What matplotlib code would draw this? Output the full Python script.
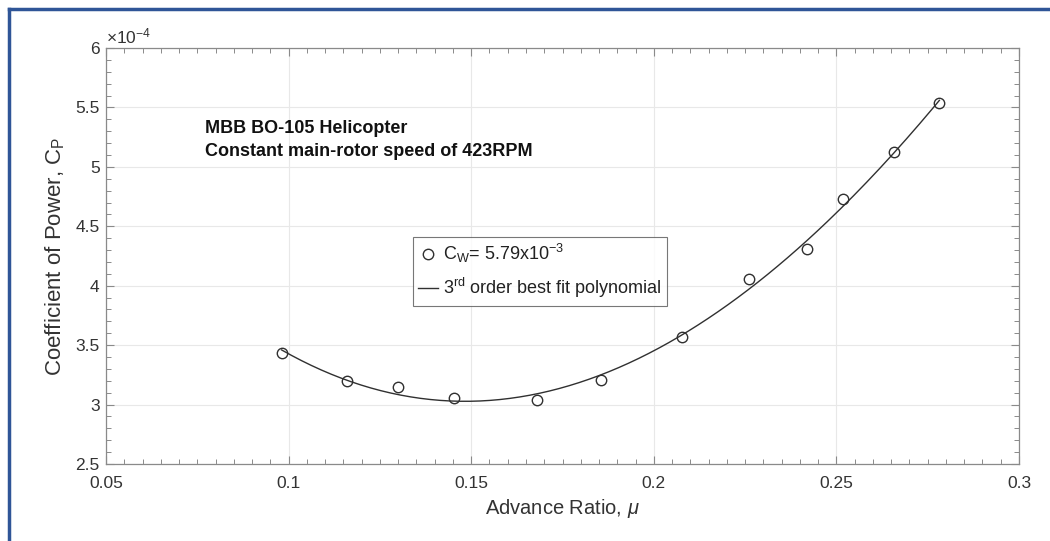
import matplotlib
matplotlib.use("Agg")
import matplotlib.pyplot as plt
import numpy as np
from matplotlib.lines import Line2D
from matplotlib.ticker import MultipleLocator, FuncFormatter

plt.rcParams["font.family"] = ["Liberation Sans", "DejaVu Sans"]
plt.rcParams["mathtext.fontset"] = "custom"
plt.rcParams["mathtext.rm"] = "Liberation Sans"
plt.rcParams["mathtext.it"] = "Liberation Sans:italic"

# advance ratio and measured power coefficient (C_W = 5.79e-3)
mu = [0.0981, 0.1160, 0.1300, 0.1453, 0.1681, 0.1855, 0.2078,
      0.2262, 0.2419, 0.2519, 0.2659, 0.2782]
cp = [3.436e-4, 3.196e-4, 3.148e-4, 3.055e-4, 3.041e-4, 3.207e-4, 3.571e-4,
      4.054e-4, 4.309e-4, 4.732e-4, 5.125e-4, 5.537e-4]

# 3rd order best fit polynomial
coef = np.polyfit(mu, cp, 3)
mu_fit = np.linspace(min(mu), max(mu), 200)
cp_fit = np.polyval(coef, mu_fit)

fig = plt.figure(figsize=(10.5, 5.41), dpi=100)
ax = fig.add_axes([106 / 1050, 1 - 464 / 541, (1019 - 106) / 1050, (464 - 48) / 541])

ax.plot(mu, cp, "o", mfc="none", mec="#303030", ms=7.5, mew=1.0,
        label=r"C$_\mathregular{W}$= 5.79x10$^\mathregular{-3}$")
ax.plot(mu_fit, cp_fit, "-", color="#303030", lw=1.0,
        label=r"3$^\mathregular{rd}$ order best fit polynomial")

ax.set_xlim(0.05, 0.3)
ax.set_ylim(2.5e-4, 6e-4)
ax.xaxis.set_major_locator(MultipleLocator(0.05))
ax.xaxis.set_minor_locator(MultipleLocator(0.005))
ax.yaxis.set_major_locator(MultipleLocator(0.5e-4))
ax.yaxis.set_minor_locator(MultipleLocator(0.1e-4))
ax.xaxis.set_major_formatter(FuncFormatter(lambda v, _: f"{v:g}"))
ax.yaxis.set_major_formatter(FuncFormatter(lambda v, _: f"{v * 1e4:g}"))

ax.grid(True, which="major", color="#e8e8e8", lw=0.8)
ax.set_axisbelow(True)
for s in ax.spines.values():
    s.set_color("#8a8a8a")
    s.set_linewidth(0.9)
ax.tick_params(which="both", direction="in", top=True, right=True,
               colors="#8a8a8a", labelcolor="#333333", labelsize=12.5)
ax.tick_params(which="major", length=6, width=0.8)
ax.tick_params(which="minor", length=3.5, width=0.7)
ax.tick_params(axis="x", which="major", pad=9)
ax.tick_params(axis="y", which="major", pad=4.5)

ax.set_xlabel(r"Advance Ratio, $\mathit{\mu}$", fontsize=14.5, color="#333333", labelpad=4)
ax.set_ylabel(r"Coefficient of Power, C$_\mathregular{P}$", fontsize=16,
              color="#333333", labelpad=6)

ax.text(0.0, 1.004, r"$\times$10$^\mathregular{-4}$", transform=ax.transAxes,
        fontsize=12.5, color="#333333", ha="left", va="bottom")

ax.text(0.0771, 5.226e-4, "MBB BO-105 Helicopter\nConstant main-rotor speed of 423RPM",
        fontsize=13, fontweight="bold", color="#111111", ha="left", va="center",
        linespacing=1.45)

leg = ax.legend(loc="upper left", bbox_to_anchor=(0.134, 4.41e-4),
                bbox_transform=ax.transData, fontsize=13, frameon=True,
                fancybox=False, edgecolor="#555555", handlelength=1.1,
                handletextpad=0.25, borderpad=0.3, labelspacing=0.6,
                borderaxespad=0)
leg.get_frame().set_linewidth(0.8)
for t in leg.get_texts():
    t.set_color("#222222")

# picture border
fig.add_artist(Line2D([9 / 1050, 9 / 1050], [0, 1 - 9 / 541], color="#2f5597", lw=2.5))
fig.add_artist(Line2D([9 / 1050, 1], [1 - 9 / 541, 1 - 9 / 541], color="#2f5597", lw=2.5))

fig.savefig("out.png", dpi=100)
